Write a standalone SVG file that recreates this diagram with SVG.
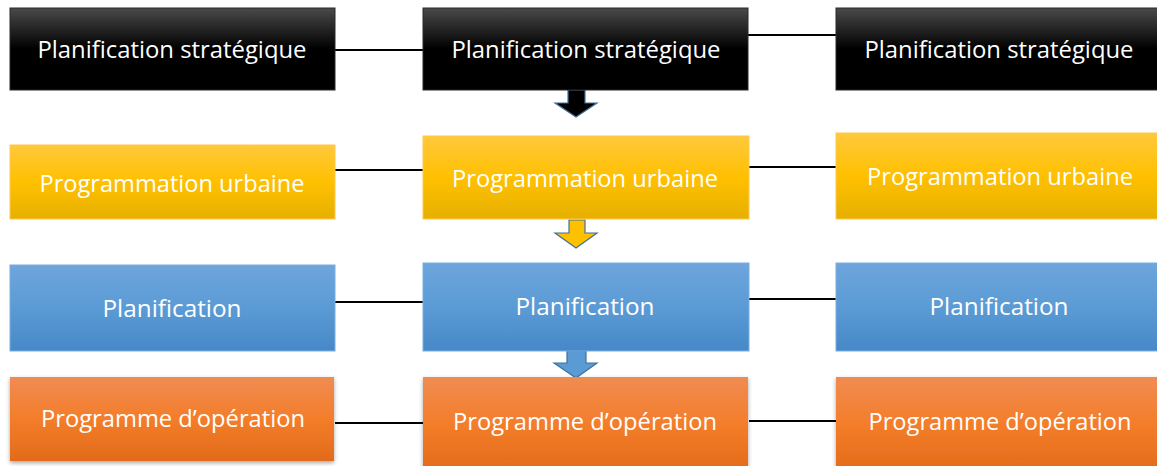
<svg xmlns="http://www.w3.org/2000/svg" width="1157" height="466" viewBox="0 0 1157 466">
<style>
.t{font-family:"Open Sans","Noto Sans","DejaVu Sans",sans-serif;font-size:23px;fill:#ffffff;text-anchor:middle}
.k{fill:url(#gk);stroke:#2a2a2a;stroke-width:1}
.y{fill:url(#gy);stroke:#ffc84a;stroke-width:1}
.b{fill:url(#gb);stroke:#7aaee0;stroke-width:1}
.o{fill:url(#go);filter:url(#sh)}
.c line{stroke:#000000;stroke-width:2.2}
.ar{stroke:#41719c;stroke-width:1.2;stroke-linejoin:miter}
</style>
<defs>
<linearGradient id="gk" x1="0" y1="0" x2="0" y2="1"><stop offset="0" stop-color="#4a4a4a"/><stop offset="0.5" stop-color="#000000"/><stop offset="1" stop-color="#000000"/></linearGradient>
<linearGradient id="gy" x1="0" y1="0" x2="0" y2="1"><stop offset="0" stop-color="#ffc93d"/><stop offset="0.5" stop-color="#ffc000"/><stop offset="1" stop-color="#e6b000"/></linearGradient>
<linearGradient id="gb" x1="0" y1="0" x2="0" y2="1"><stop offset="0" stop-color="#6ea5dc"/><stop offset="0.5" stop-color="#5b9bd5"/><stop offset="1" stop-color="#4688c8"/></linearGradient>
<linearGradient id="go" x1="0" y1="0" x2="0" y2="1"><stop offset="0" stop-color="#f08c52"/><stop offset="0.5" stop-color="#f47d2a"/><stop offset="1" stop-color="#e26b1a"/></linearGradient>
<filter id="sh" x="-5%" y="-10%" width="110%" height="130%"><feDropShadow dx="0" dy="2" stdDeviation="2" flood-color="#000" flood-opacity="0.35"/></filter>
</defs>
<g id="connectors" class="c">
<line x1="335" y1="50" x2="423" y2="50"/>
<line x1="748" y1="35" x2="836" y2="35"/>
<line x1="335" y1="170" x2="423" y2="170"/>
<line x1="749" y1="167" x2="836" y2="167"/>
<line x1="335" y1="302" x2="423" y2="302"/>
<line x1="749" y1="299" x2="836" y2="299"/>
<line x1="335" y1="423" x2="423" y2="423"/>
<line x1="749" y1="421" x2="836" y2="421"/>
<path class="ar" d="M568,90 H585 V103 H597 L576,117 L555,103 H568 Z" fill="#000000"/>
<path class="ar" d="M569,220 H585 V233 H597 L576,248 L555,233 H569 Z" fill="#ffc000"/>
<path class="ar" d="M567,351 H586 V363 H597 L576,378 L554,363 H567 Z" fill="#5b9bd5"/>
</g>
<g id="n1"><rect class="k" x="10" y="8" width="325" height="82"/><text class="t" x="172" y="58" textLength="269" lengthAdjust="spacingAndGlyphs">Planification stratégique</text></g>
<g id="n2"><rect class="k" x="423" y="8" width="325" height="82"/><text class="t" x="586" y="58" textLength="269" lengthAdjust="spacingAndGlyphs">Planification stratégique</text></g>
<g id="n3"><rect class="k" x="836" y="8" width="330" height="82"/><text class="t" x="999" y="58" textLength="269" lengthAdjust="spacingAndGlyphs">Planification stratégique</text></g>
<g id="n4"><rect class="y" x="10" y="145" width="325" height="74"/><text class="t" x="172" y="192" textLength="265" lengthAdjust="spacingAndGlyphs">Programmation urbaine</text></g>
<g id="n5"><rect class="y" x="423" y="136" width="326" height="83"/><text class="t" x="585" y="187" textLength="266" lengthAdjust="spacingAndGlyphs">Programmation urbaine</text></g>
<g id="n6"><rect class="y" x="836" y="133" width="330" height="86"/><text class="t" x="1000" y="185" textLength="266" lengthAdjust="spacingAndGlyphs">Programmation urbaine</text></g>
<g id="n7"><rect class="b" x="10" y="265" width="325" height="86"/><text class="t" x="172" y="317" textLength="139" lengthAdjust="spacingAndGlyphs">Planification</text></g>
<g id="n8"><rect class="b" x="423" y="263" width="326" height="88"/><text class="t" x="585" y="315" textLength="139" lengthAdjust="spacingAndGlyphs">Planification</text></g>
<g id="n9"><rect class="b" x="836" y="263" width="330" height="88"/><text class="t" x="999" y="315" textLength="139" lengthAdjust="spacingAndGlyphs">Planification</text></g>
<g id="n10"><rect class="o" x="10" y="377" width="324" height="84"/><text class="t" x="173" y="427" textLength="264" lengthAdjust="spacingAndGlyphs">Programme d’opération</text></g>
<g id="n11"><rect class="o" x="423" y="377" width="325" height="95"/><text class="t" x="585" y="430" textLength="264" lengthAdjust="spacingAndGlyphs">Programme d’opération</text></g>
<g id="n12"><rect class="o" x="836" y="377" width="330" height="95"/><text class="t" x="1000" y="430" textLength="263" lengthAdjust="spacingAndGlyphs">Programme d’opération</text></g>
</svg>
